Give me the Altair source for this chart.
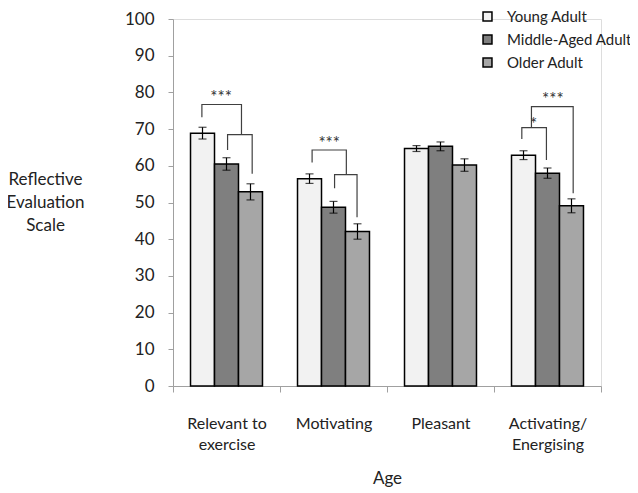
import altair as alt
import pandas as pd

categories = ["Relevant to exercise", "Motivating", "Pleasant", "Activating/Energising"]
groups = ["Young Adult", "Middle-Aged Adult", "Older Adult"]
colors = ["#f2f2f2", "#7f7f7f", "#a6a6a6"]

young = [68.9, 56.5, 64.7, 62.9]
middle = [60.5, 48.7, 65.3, 58.0]
older = [52.9, 42.1, 60.2, 49.1]
young_err = [1.6, 1.3, 0.8, 1.2]
middle_err = [1.7, 1.6, 1.2, 1.4]
older_err = [2.2, 2.1, 1.7, 1.9]

# significance brackets (x in category units: 0..4, y in scale units)
bracket_id = ["r1"] * 4 + ["r2"] * 4 + ["m1"] * 4 + ["m2"] * 4 + ["a1"] * 4 + ["a2"] * 4
bracket_x = [0.27, 0.27, 0.64, 0.64,
             0.51, 0.51, 0.74, 0.74,
             1.30, 1.30, 1.62, 1.62,
             1.51, 1.51, 1.72, 1.72,
             3.26, 3.26, 3.49, 3.49,
             3.35, 3.35, 3.74, 3.74]
bracket_y = [73.2, 76.7, 76.7, 68.5,
             64.3, 68.5, 68.5, 57.8,
             60.9, 64.3, 64.3, 57.6,
             53.9, 57.6, 57.6, 46.0,
             67.3, 70.4, 70.4, 61.6,
             70.4, 76.1, 76.1, 52.5]
star_text = ["***", "***", "*", "***"]
star_x = [0.45, 1.46, 3.37, 3.55]
star_y = [78.4, 66.0, 71.2, 78.0]

rows = []
for vals, errs, g in [(young, young_err, groups[0]), (middle, middle_err, groups[1]), (older, older_err, groups[2])]:
    for c, v, e in zip(categories, vals, errs):
        rows.append({"cat": c, "group": g, "value": v, "lo": v - e, "hi": v + e})
df = pd.DataFrame(rows)

bdf = pd.DataFrame({"id": bracket_id, "x": bracket_x, "y": bracket_y,
                    "order": list(range(len(bracket_x)))})
sdf = pd.DataFrame({"t": star_text, "x": star_x, "y": star_y})

FONT = "Lato"

label_expr = ("datum.label == 'Relevant to exercise' ? ['Relevant to', 'exercise'] : "
              "datum.label == 'Activating/Energising' ? ['Activating/', 'Energising'] : datum.label")

x_enc = alt.X("cat:N", sort=categories,
              scale=alt.Scale(paddingInner=0, paddingOuter=0),
              axis=alt.Axis(title="Age", tickBand="extent", labelAngle=0,
                            labelExpr=label_expr, labelFont=FONT, labelFontSize=16,
                            labelColor="#222", labelPadding=23, labelLineHeight=21,
                            labelBaseline="top",
                            domainColor="#a0a0a0", tickColor="#a0a0a0", tickSize=6,
                            titleFont=FONT, titleFontSize=17, titleFontWeight="normal",
                            titleColor="#222", titleY=84, titleX=214))
xo_enc = alt.XOffset("group:N", sort=groups,
                     scale=alt.Scale(paddingInner=0, paddingOuter=0.73))
y_scale = alt.Scale(domain=[0, 100])
Y_TITLE = ["Reflective", "Evaluation", "Scale"]
y_axis = alt.Axis(values=list(range(0, 101, 10)), grid=False, labelOverlap=False,
                  titleAngle=0, titleAlign="center", titleBaseline="middle",
                  titleX=-128, titleY=160, titleFont=FONT, titleFontSize=17,
                  titleFontWeight="normal", titleColor="#222", titleLineHeight=23,
                  labelFont=FONT, labelFontSize=17, labelColor="#222",
                  labelPadding=14, tickSize=5, tickColor="#a0a0a0",
                  domainColor="#a0a0a0")

bars = alt.Chart(df).mark_bar(stroke="black", strokeWidth=1.5).encode(
    x=x_enc,
    xOffset=xo_enc,
    y=alt.Y("value:Q", scale=y_scale, axis=y_axis, title=Y_TITLE),
    fill=alt.Fill("group:N", sort=groups,
                  scale=alt.Scale(domain=groups, range=colors),
                  legend=alt.Legend(title=None, orient="none", legendX=307, legendY=-10,
                                    symbolType="square", symbolSize=80,
                                    symbolStrokeColor="black", symbolStrokeWidth=1.5,
                                    labelFont=FONT, labelFontSize=15, labelColor="#222",
                                    labelOffset=12, rowPadding=7, padding=0,
                                    labelLimit=300)),
)

err_rule = alt.Chart(df).mark_rule(color="black", strokeWidth=1.2).encode(
    x=alt.X("cat:N", sort=categories), xOffset=alt.XOffset("group:N", sort=groups),
    y=alt.Y("lo:Q", scale=y_scale, axis=y_axis, title=Y_TITLE), y2="hi:Q")
cap_lo = alt.Chart(df).mark_tick(color="black", thickness=1.2, size=8, orient="horizontal").encode(
    x=alt.X("cat:N", sort=categories), xOffset=alt.XOffset("group:N", sort=groups),
    y=alt.Y("lo:Q", scale=y_scale, axis=y_axis, title=Y_TITLE))
cap_hi = alt.Chart(df).mark_tick(color="black", thickness=1.2, size=8, orient="horizontal").encode(
    x=alt.X("cat:N", sort=categories), xOffset=alt.XOffset("group:N", sort=groups),
    y=alt.Y("hi:Q", scale=y_scale, axis=y_axis, title=Y_TITLE))

base = alt.layer(bars, err_rule, cap_lo, cap_hi)

brackets = alt.Chart(bdf).mark_line(color="#404040", strokeWidth=1.2, interpolate="linear").encode(
    x=alt.X("x:Q", scale=alt.Scale(domain=[0, 4], nice=False, zero=False), axis=None),
    y=alt.Y("y:Q", scale=y_scale, axis=y_axis, title=Y_TITLE),
    detail="id:N",
    order="order:Q",
)
stars = alt.Chart(sdf).mark_text(font=FONT, fontSize=17, color="#333", baseline="middle").encode(
    x=alt.X("x:Q", scale=alt.Scale(domain=[0, 4], nice=False, zero=False), axis=None),
    y=alt.Y("y:Q", scale=y_scale, axis=y_axis, title=Y_TITLE),
    text="t:N",
)

chart = alt.layer(base, brackets, stars).resolve_scale(x="independent").properties(
    width=428, height=367,
    autosize=alt.AutoSizeParams(type="none"),
    padding={"left": 165, "top": 11, "right": 29, "bottom": 106},
).configure_view(stroke=None).configure(background="white")

chart.save("out.html", embed_options={"renderer": "svg", "actions": False})
